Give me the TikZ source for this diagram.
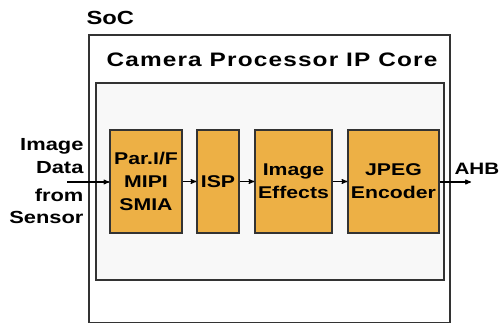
\documentclass[tikz,border=0pt]{standalone}
\usepackage{fontspec}
\setmainfont{Liberation Sans}[FakeStretch=1.25]
\usetikzlibrary{arrows,positioning}
\definecolor{blkColor}{HTML}{EDB045}
\definecolor{coreColor}{HTML}{F8F8F8}
\definecolor{lineColor}{HTML}{333333}
\tikzset{
	blk/.style={draw=lineColor, line width=1.2pt, fill=blkColor, minimum height=103pt,
		inner sep=0pt, align=center, font=\fontsize{17}{23}\selectfont\bfseries},
	lbl/.style={inner sep=0pt, font=\fontsize{17.5}{22.5}\selectfont\bfseries}
}

\begin{document}
\begin{tikzpicture}[x=1pt,y=-1pt,->,>=stealth',line width=1.1pt]
	\useasboundingbox (0,0) rectangle (501,322);
	
	% SoC and core
	\draw[-, draw=lineColor, line width=2.5pt] (89,35) rectangle (450,323);
	\node[lbl, anchor=base west, font=\fontsize{19}{22}\selectfont\bfseries] (soc) at (86,24) {SoC};
	\node[lbl, anchor=base, font=\fontsize{19.5}{22}\selectfont\bfseries\addfontfeature{LetterSpace=6}] (title) at (272,66) {Camera Processor IP Core};
	\draw[-, draw=lineColor, line width=1.5pt, fill=coreColor] (96,83) rectangle (444,280);
	
	% pipeline
	\node[blk, minimum width=72pt] (par) at (146,181.5) {Par.I/F\\MIPI\\SMIA};
	\node[blk, minimum width=42pt] (isp) at (218,181.5) {ISP};
	\node[blk, minimum width=77pt] (fx) at (293.5,181.5) {Image\\Effects};
	\node[blk, minimum width=91pt] (jpeg) at (393.5,181.5) {JPEG\\Encoder};
	
	\node[lbl, align=right, anchor=east] (src) at (84,181.5) {Image\\Data\\[5.5pt]from\\Sensor};
	\coordinate (in) at (67,182);
	\coordinate (out) at (471,182);
	\node[lbl, anchor=base west, font=\fontsize{16.5}{20}\selectfont\bfseries] (ahb) at (454,174) {AHB};
	
	\draw (in) -- (par.west |- in);
	\draw (par) -- (isp);
	\draw (isp) -- (fx);
	\draw (fx) -- (jpeg);
	\draw (jpeg.east |- out) -- (out);
\end{tikzpicture}
\end{document}
